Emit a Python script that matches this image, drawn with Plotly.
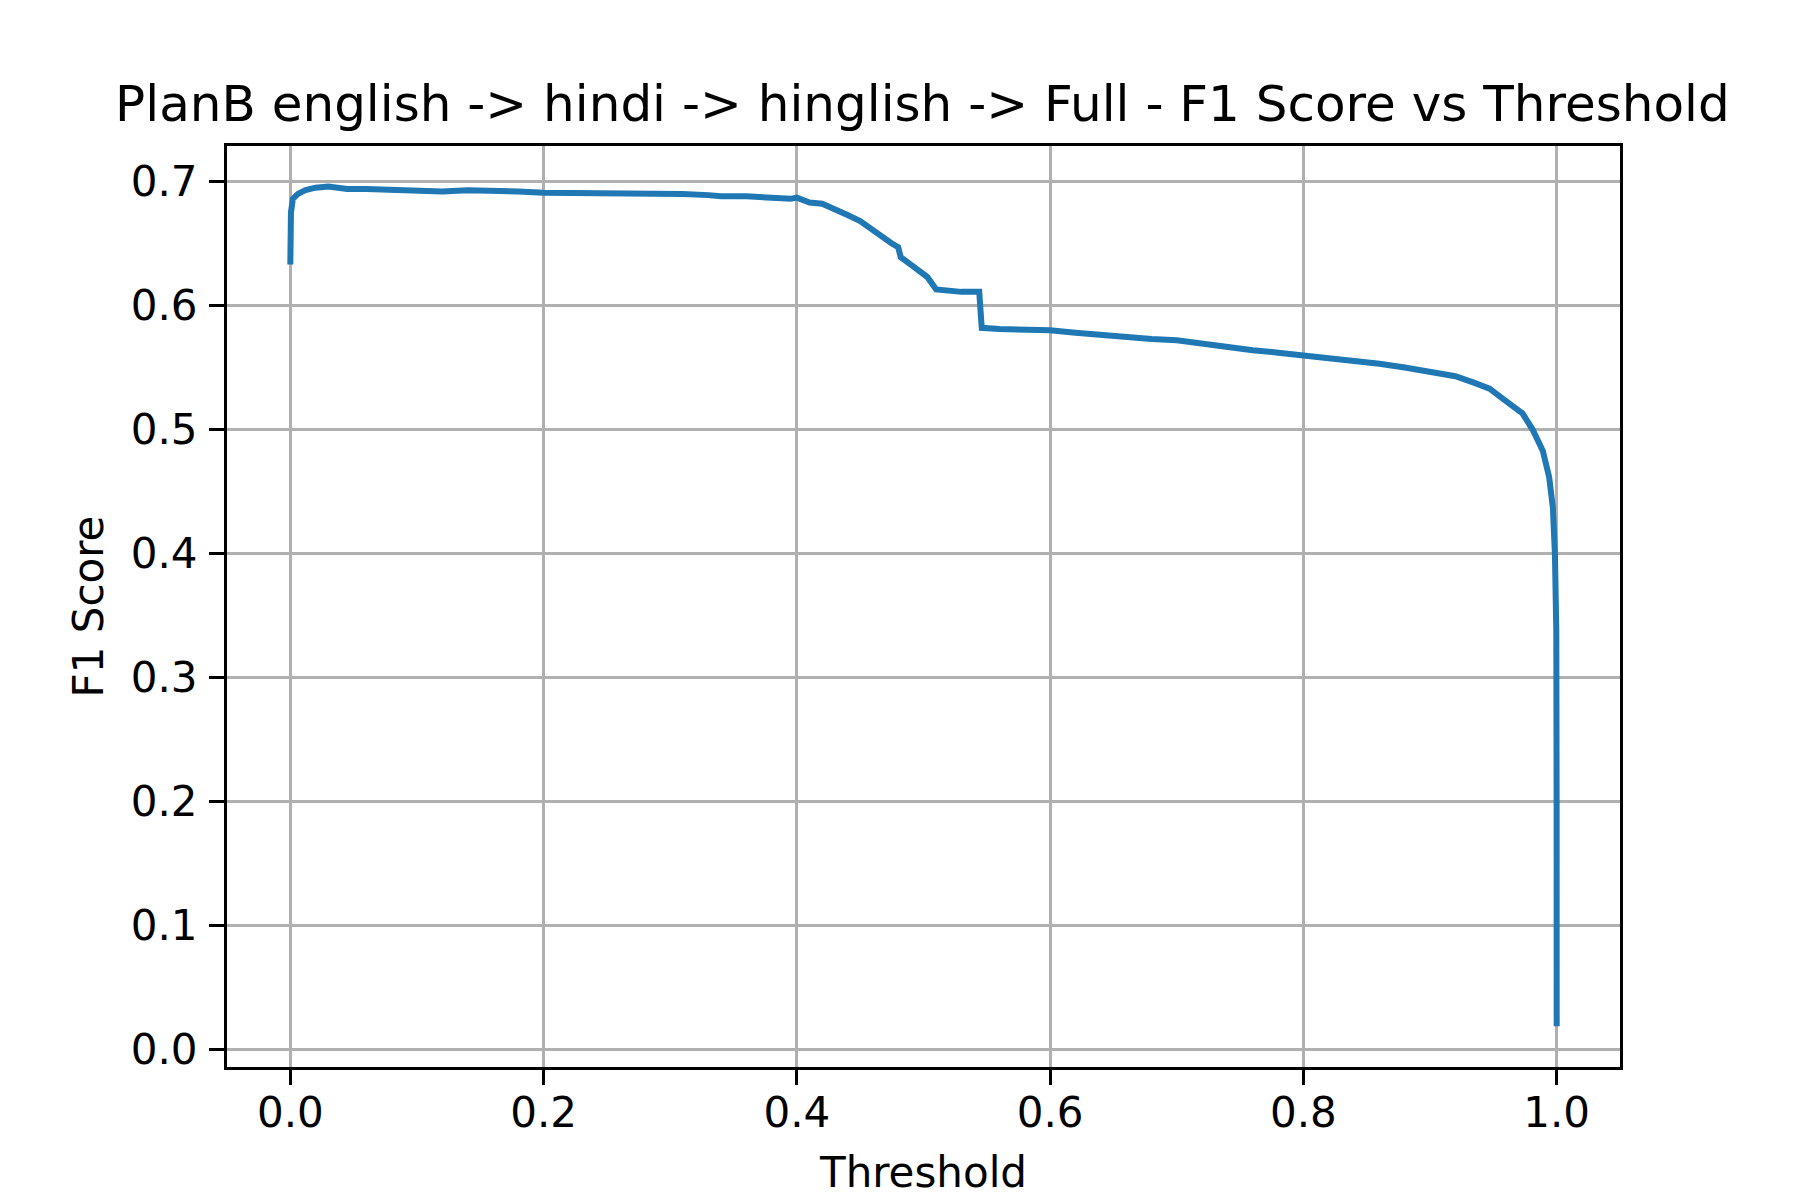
import plotly.graph_objects as go

TITLE = "PlanB english -> hindi -> hinglish -> Full - F1 Score vs Threshold"

# values
threshold = [
    0.0, 0.0, 0.0005, 0.002, 0.006, 0.012, 0.02, 0.03, 0.045, 0.06,
    0.08, 0.10, 0.12, 0.14, 0.16, 0.18, 0.20, 0.22, 0.25, 0.28,
    0.31, 0.33, 0.34, 0.36, 0.38, 0.395, 0.40, 0.41, 0.42, 0.425,
    0.43, 0.44, 0.45, 0.457, 0.465, 0.475, 0.48, 0.482, 0.49, 0.497,
    0.503, 0.51, 0.52, 0.53, 0.544, 0.546, 0.56, 0.58, 0.60, 0.62,
    0.64, 0.66, 0.68, 0.70, 0.72, 0.74, 0.76, 0.78, 0.80, 0.82,
    0.84, 0.86, 0.88, 0.90, 0.92, 0.934, 0.947, 0.96, 0.973, 0.981,
    0.989, 0.994, 0.997, 0.9986, 0.9997, 0.99995, 1.0,
]
f1_score = [
    0.633, 0.660, 0.675, 0.686, 0.690, 0.693, 0.695, 0.696, 0.694, 0.694,
    0.693, 0.693, 0.692, 0.693, 0.693, 0.692, 0.691, 0.691, 0.690, 0.690,
    0.690, 0.689, 0.688, 0.688, 0.687, 0.686, 0.687, 0.683, 0.682, 0.680,
    0.677, 0.673, 0.668, 0.663, 0.656, 0.650, 0.647, 0.639, 0.633, 0.628,
    0.623, 0.613, 0.612, 0.611, 0.611, 0.582, 0.581, 0.581, 0.580, 0.578,
    0.576, 0.574, 0.573, 0.572, 0.569, 0.567, 0.564, 0.562, 0.560, 0.558,
    0.555, 0.553, 0.550, 0.547, 0.543, 0.538, 0.533, 0.523, 0.513, 0.500,
    0.483, 0.462, 0.437, 0.400, 0.338, 0.200, 0.019,
]

x_ticks = [0.0, 0.2, 0.4, 0.6, 0.8, 1.0]
y_ticks = [0.0, 0.1, 0.2, 0.3, 0.4, 0.5, 0.6, 0.7]

FONT = "DejaVu Sans"

fig = go.Figure()
fig.add_trace(go.Scatter(
    x=threshold, y=f1_score, mode="lines",
    line=dict(color="#1f77b4", width=6),
    showlegend=False,
))

axis_style = dict(
    showline=True, linecolor="black", linewidth=3, mirror=True,
    ticks="outside", ticklen=15, tickwidth=3, tickcolor="black",
    showgrid=True, gridcolor="#b0b0b0", gridwidth=3,
    zeroline=False, automargin=False,
    tickfont=dict(family=FONT, size=42, color="black"),
)

fig.update_xaxes(
    range=[-0.05, 1.05], tickvals=x_ticks,
    ticktext=[f"{v:.1f}" for v in x_ticks],
    ticklabelstandoff=-8,
    title=dict(text="Threshold", font=dict(family=FONT, size=42, color="black"), standoff=22),
    **axis_style,
)
fig.update_yaxes(
    range=[-0.0139, 0.7286], tickvals=y_ticks,
    ticktext=[f"{v:.1f}" for v in y_ticks],
    ticklabelstandoff=3,
    title=dict(text="F1 Score", font=dict(family=FONT, size=42, color="black"), standoff=15),
    **axis_style,
)

fig.update_layout(
    width=1800, height=1200,
    margin=dict(l=219, r=188, t=138, b=141),
    paper_bgcolor="white", plot_bgcolor="white",
    title=dict(text=TITLE, x=0.508, xanchor="center", y=0.9205, yanchor="middle",
               font=dict(family=FONT, size=50, color="black")),
)

fig.write_html("out.html")
